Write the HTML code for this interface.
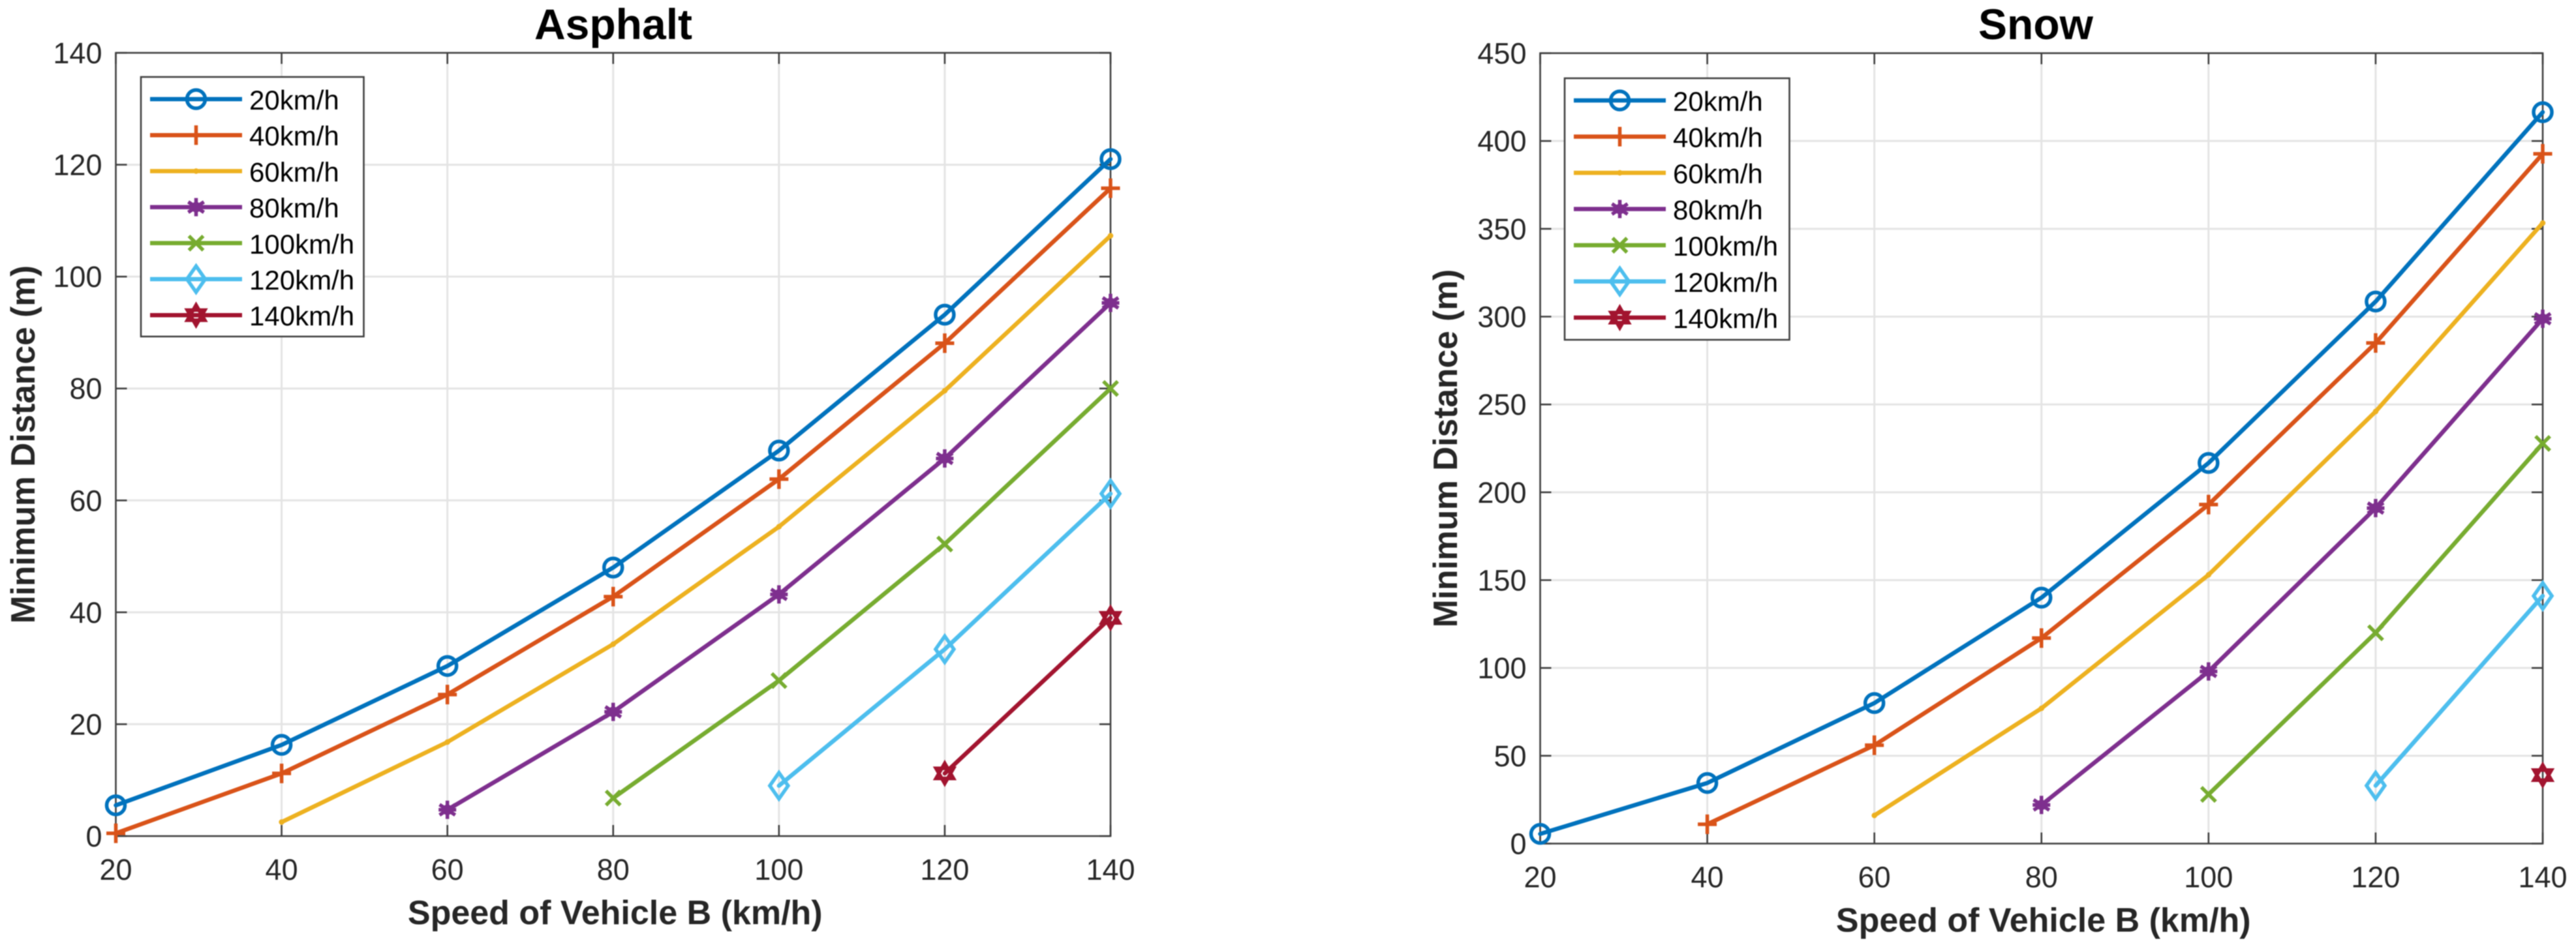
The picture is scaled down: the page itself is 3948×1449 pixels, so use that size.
<!DOCTYPE html>
<html lang="en">
<head>
<meta charset="utf-8">
<title>Minimum Distance charts</title>
<style>
html,body{margin:0;padding:0;background:#fff;width:3948px;height:1449px;overflow:hidden}
svg{display:block;filter:blur(0.8px)}
text{font-family:"Liberation Sans",sans-serif}
</style>
</head>
<body>
<svg id="figure" xmlns="http://www.w3.org/2000/svg" width="3948" height="1449" viewBox="0 0 3948 1449"></svg>
<script>
const speeds = [20, 40, 60, 80, 100, 120, 140];
const seriesLabels = ['20km/h', '40km/h', '60km/h', '80km/h', '100km/h', '120km/h', '140km/h'];
const seriesColors = ['#0072BD', '#D95319', '#EDB120', '#7E2F8E', '#77AC30', '#4DBEEE', '#A2142F'];
const seriesMarkers = ['circle', 'plus', 'point', 'star', 'cross', 'diamond', 'hexagram'];

const asphaltYTicks = [0, 20, 40, 60, 80, 100, 120, 140];
const asphalt20 = [5.5, 16.3, 30.4, 48, 68.9, 93.2, 121];
const asphalt40 = [0.5, 11.2, 25.3, 42.8, 63.8, 88.1, 115.8];
const asphalt60 = [null, 2.5, 16.8, 34.3, 55.3, 79.6, 107.3];
const asphalt80 = [null, null, 4.7, 22.2, 43.2, 67.5, 95.3];
const asphalt100 = [null, null, null, 6.8, 27.8, 52.2, 80];
const asphalt120 = [null, null, null, null, 9, 33.4, 61.2];
const asphalt140 = [null, null, null, null, null, 11.2, 39];

const snowYTicks = [0, 50, 100, 150, 200, 250, 300, 350, 400, 450];
const snow20 = [5.5, 34.5, 80, 140, 216.7, 308.6, 416.4];
const snow40 = [null, 11, 56, 117, 193, 285, 392.7];
const snow60 = [null, null, 16, 77, 153, 246, 353.3];
const snow80 = [null, null, null, 22, 98, 191, 298.8];
const snow100 = [null, null, null, null, 28, 120, 227.8];
const snow120 = [null, null, null, null, null, 33, 141];
const snow140 = [null, null, null, null, null, null, 39];

const NS = 'http://www.w3.org/2000/svg';
const root = document.getElementById('figure');

function node(parent, tag, attrs, text) {
  const el = document.createElementNS(NS, tag);
  for (const k in attrs) el.setAttribute(k, attrs[k]);
  if (text !== undefined) el.textContent = text;
  parent.appendChild(el);
  return el;
}

function drawMarker(parent, kind, cx, cy, color) {
  const g = node(parent, 'g', {fill: 'none', stroke: color, 'stroke-width': 5.5});
  
  
  const line = (a, b, c, d) => node(g, 'line', {x1: cx + a, y1: cy + b, x2: cx + c, y2: cy + d});
  if (kind === 'circle') {
    node(g, 'circle', {cx: cx, cy: cy, r: 14});
  } else if (kind === 'plus') {
    line(-14.5, 0, 14.5, 0);
    line(0, -15, 0, 15);
  } else if (kind === 'point') {
    node(g, 'circle', {cx: cx, cy: cy, r: 3.5, fill: color, 'stroke-width': 1.5});
  } else if (kind === 'star') {
    line(0, -14, 0, 14);
    line(-12, -8, 12, 8);
    line(-12, 8, 12, -8);
    line(-13.5, 0, 13.5, 0);
    node(g, 'circle', {cx: cx, cy: cy, r: 8, fill: color, stroke: 'none'});
  } else if (kind === 'cross') {
    line(-11, -11, 11, 11);
    line(-11, 11, 11, -11);
  } else if (kind === 'diamond') {
    node(g, 'polygon', {points: [cx, cy - 20, cx + 14, cy, cx, cy + 20, cx - 14, cy].join(' ')});
  } else if (kind === 'hexagram') {
    const r = 15.5;
    const dx = r * Math.cos(Math.PI / 6);
    const dy = r / 2;
    node(g, 'polygon', {points: [cx, cy - r, cx + dx, cy + dy, cx - dx, cy + dy].join(' ')});
    node(g, 'polygon', {points: [cx, cy + r, cx + dx, cy - dy, cx - dx, cy - dy].join(' ')});
  }
}

function drawPanel(p) {
  const group = node(root, 'g', {});
  
  
  const yMax = p.yTicks[p.yTicks.length - 1];
  const xScale = v => p.left + (v - speeds[0]) / (speeds[speeds.length - 1] - speeds[0]) * (p.right - p.left);
  const yScale = v => p.bottom - (v - p.yTicks[0]) / (yMax - p.yTicks[0]) * (p.bottom - p.top);

  const grid = node(group, 'g', {stroke: '#e4e4e4', 'stroke-width': 3});
  
  
  speeds.slice(1, -1).forEach(v => node(grid, 'line', {x1: xScale(v), x2: xScale(v), y1: p.top, y2: p.bottom}));
  p.yTicks.slice(1, -1).forEach(v => node(grid, 'line', {x1: p.left, x2: p.right, y1: yScale(v), y2: yScale(v)}));

  const axes = node(group, 'g', {stroke: '#404040', 'stroke-width': 2.6, fill: 'none'});
  
  
  node(axes, 'rect', {x: p.left, y: p.top, width: p.right - p.left, height: p.bottom - p.top});
  speeds.forEach(v => {
    node(axes, 'line', {x1: xScale(v), x2: xScale(v), y1: p.bottom, y2: p.bottom - 17});
    node(axes, 'line', {x1: xScale(v), x2: xScale(v), y1: p.top, y2: p.top + 17});
  });
  p.yTicks.forEach(v => {
    node(axes, 'line', {x1: p.left, x2: p.left + 17, y1: yScale(v), y2: yScale(v)});
    node(axes, 'line', {x1: p.right, x2: p.right - 17, y1: yScale(v), y2: yScale(v)});
  });

  speeds.forEach(v => {
    const t = node(group, 'text', {x: xScale(v), y: p.bottom + 67, 'text-anchor': 'middle', 'font-size': 45, fill: '#262626'}, String(v));
    
    
  });
  p.yTicks.forEach(v => {
    const t = node(group, 'text', {x: p.left - 21, y: yScale(v) + 16, 'text-anchor': 'end', 'font-size': 45, fill: '#262626'}, String(v));
    
    
  });

  p.series.forEach((values, i) => {
    const sg = node(group, 'g', {});
    
    
    const pts = [];
    values.forEach((v, k) => { if (v !== null) pts.push([xScale(speeds[k]), yScale(v)]); });
    if (pts.length > 1) {
      node(sg, 'polyline', {points: pts.map(q => q.join(',')).join(' '), fill: 'none', stroke: seriesColors[i], 'stroke-width': 6.5, 'stroke-linejoin': 'round', 'stroke-linecap': 'round'});
    }
    pts.forEach(q => drawMarker(sg, seriesMarkers[i], q[0], q[1], seriesColors[i]));
  });

  const legend = node(group, 'g', {});
  
  
  node(legend, 'rect', {x: p.legend.x, y: p.legend.y, width: p.legend.w, height: p.legend.h, fill: '#fff', stroke: '#404040', 'stroke-width': 2.6});
  seriesLabels.forEach((label, i) => {
    const entry = node(legend, 'g', {});
    
    
    const ey = p.legend.y + p.legend.first + i * p.legend.step;
    node(entry, 'line', {x1: p.legend.x + 14, x2: p.legend.x + 155, y1: ey, y2: ey, stroke: seriesColors[i], 'stroke-width': 6.5});
    drawMarker(entry, seriesMarkers[i], p.legend.x + 84.5, ey, seriesColors[i]);
    node(entry, 'text', {x: p.legend.x + 166, y: ey + 16, 'font-size': 42, fill: '#000'}, label);
  });

  const title = node(group, 'text', {x: p.titleX, y: 60, 'text-anchor': 'middle', 'font-size': 66, 'font-weight': 'bold', fill: '#000'}, p.title);
  
  
  const xLabel = node(group, 'text', {x: (p.left + p.right) / 2 + 3, y: p.bottom + 135, 'text-anchor': 'middle', 'font-size': 52, 'font-weight': 'bold', fill: '#262626'}, 'Speed of Vehicle B (km/h)');
  
  
  const yx = p.yLabelX;
  const yy = (p.top + p.bottom) / 2;
  const yLabel = node(group, 'text', {x: yx, y: yy, transform: 'rotate(-90 ' + yx + ' ' + yy + ')', 'text-anchor': 'middle', 'font-size': 51.5, 'font-weight': 'bold', fill: '#262626'}, 'Minimum Distance (m)');
  
  
}

drawPanel({
  name: 'asphalt', title: 'Asphalt', titleX: 940,
  left: 177.5, right: 1702, top: 81, bottom: 1282, yLabelX: 53,
  yTicks: asphaltYTicks,
  series: [asphalt20, asphalt40, asphalt60, asphalt80, asphalt100, asphalt120, asphalt140],
  legend: {x: 216, y: 118, w: 341.5, h: 398, first: 34, step: 55.2}
});
drawPanel({
  name: 'snow', title: 'Snow', titleX: 3120,
  left: 2360.5, right: 3897, top: 81.5, bottom: 1293.5, yLabelX: 2233,
  yTicks: snowYTicks,
  series: [snow20, snow40, snow60, snow80, snow100, snow120, snow140],
  legend: {x: 2398, y: 120, w: 344.5, h: 401, first: 34, step: 55.5}
});
</script>
</body>
</html>
